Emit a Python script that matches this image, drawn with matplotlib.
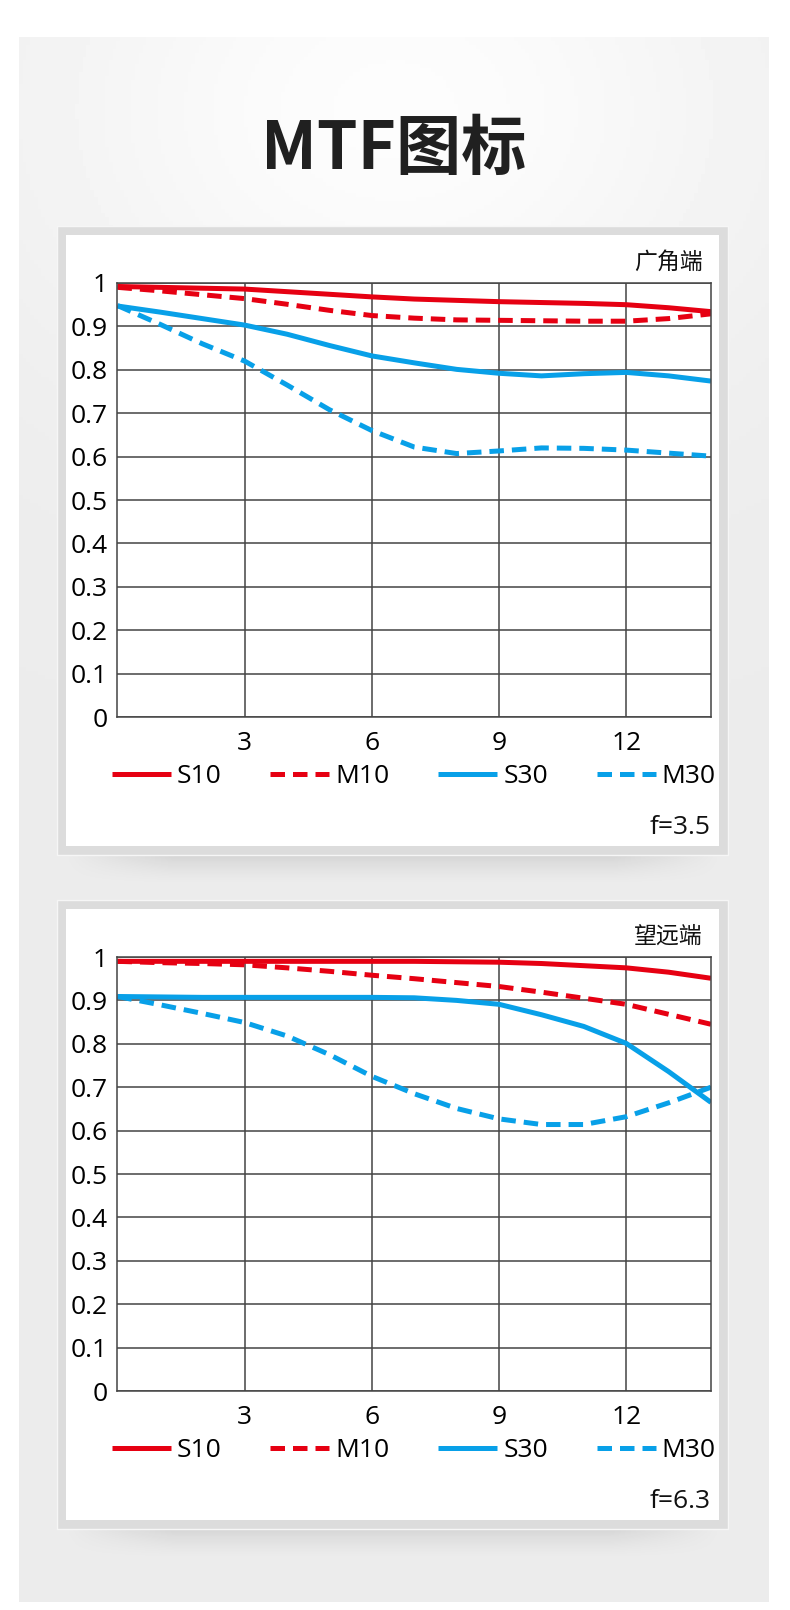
import numpy as np
import matplotlib
matplotlib.use('Agg')
import matplotlib.pyplot as plt
from matplotlib.patches import Rectangle

# data (image height in mm, MTF value)
x_pos = [0, 1, 2, 3, 4, 5, 6, 7, 8, 9, 10, 11, 12, 13, 14]

wide_s10 = [0.992, 0.990, 0.988, 0.986, 0.980, 0.974, 0.968, 0.963, 0.960, 0.957, 0.955, 0.953, 0.950, 0.943, 0.934]
wide_m10 = [0.990, 0.982, 0.973, 0.964, 0.951, 0.937, 0.925, 0.919, 0.915, 0.914, 0.913, 0.912, 0.912, 0.918, 0.929]
wide_s30 = [0.947, 0.933, 0.918, 0.903, 0.882, 0.856, 0.832, 0.816, 0.801, 0.792, 0.786, 0.791, 0.794, 0.786, 0.774]
wide_m30 = [0.948, 0.905, 0.860, 0.820, 0.765, 0.708, 0.660, 0.622, 0.607, 0.613, 0.620, 0.619, 0.615, 0.608, 0.601]

tele_s10 = [0.990, 0.990, 0.990, 0.990, 0.990, 0.990, 0.990, 0.990, 0.989, 0.988, 0.985, 0.980, 0.975, 0.965, 0.951]
tele_m10 = [0.990, 0.987, 0.985, 0.982, 0.975, 0.967, 0.958, 0.950, 0.941, 0.932, 0.919, 0.905, 0.891, 0.868, 0.845]
tele_s30 = [0.909, 0.908, 0.907, 0.907, 0.907, 0.907, 0.907, 0.906, 0.900, 0.891, 0.867, 0.840, 0.801, 0.736, 0.665]
tele_m30 = [0.909, 0.890, 0.870, 0.849, 0.818, 0.775, 0.725, 0.685, 0.651, 0.627, 0.614, 0.614, 0.632, 0.664, 0.700]

series_names = ['S10', 'M10', 'S30', 'M30']
x_ticks = [3, 6, 9, 12]
y_ticks = [0, 0.1, 0.2, 0.3, 0.4, 0.5, 0.6, 0.7, 0.8, 0.9, 1.0]
y_tick_labels = ['0', '0.1', '0.2', '0.3', '0.4', '0.5', '0.6', '0.7', '0.8', '0.9', '1']

panel_titles = ['广角端', '望远端']
apertures = ['f=3.5', 'f=6.3']
panel_data = [[wide_s10, wide_m10, wide_s30, wide_m30],
              [tele_s10, tele_m10, tele_s30, tele_m30]]

RED = '#e60012'
BLUE = '#08a0e8'
GRID = '#444444'
series_style = [(RED, '-'), (RED, (0, (2.9, 1.6))), (BLUE, '-'), (BLUE, (0, (2.9, 1.6)))]

plt.rcParams['font.family'] = ['Open Sans', 'Noto Sans CJK SC', 'DejaVu Sans']
CJK = ['Noto Sans CJK SC', 'DejaVu Sans']
FS = 19

W, H = 790, 1610
fig = plt.figure(figsize=(W / 100, H / 100), dpi=100)

# background layer in pixel coordinates
bg = fig.add_axes([0, 0, 1, 1], zorder=0)
gx = np.linspace(19, 769, 200)
gy = np.linspace(38, 1602, 400)
GX, GY = np.meshgrid(gx, gy)
shade = 0.925 + 0.065 * np.exp(-(((GX - 395) / 380) ** 2 + ((GY - 110) / 300) ** 2))
bg.imshow(shade, cmap='gray', vmin=0, vmax=1, extent=(19, 769, 1602, 38), aspect='auto', zorder=0)

panel_tops = [226, 900]
axis_bottoms = [717, 1391]
for top in panel_tops:
    # soft shadow under the card
    sh = np.zeros((34, 200, 4))
    fade_y = np.linspace(1, 0, 34) ** 1.6
    fade_x = np.clip(np.minimum(np.linspace(0, 1, 200), np.linspace(1, 0, 200)) * 6, 0, 1)
    sh[..., 3] = 0.11 * fade_y[:, None] * fade_x[None, :]
    bg.imshow(sh, extent=(62, 724, top + 629 + 32, top + 627), aspect='auto', zorder=1)
    bg.add_patch(Rectangle((57, top), 671, 629, facecolor='#dcdcdc', edgecolor='#f6f6f6', lw=1, zorder=2))
    bg.add_patch(Rectangle((66, top + 9), 653, 611, facecolor='white', edgecolor='none', zorder=3))

bg.set_xlim(0, W)
bg.set_ylim(H, 0)
bg.axis('off')

bg.text(394, 169, 'MTF图标', family=CJK, fontsize=47, fontweight='bold',
        ha='center', va='baseline', color='#202020', zorder=5)

for i in range(2):
    ybot = axis_bottoms[i]
    ax = fig.add_axes([117.5 / W, 1 - ybot / H, 593.5 / W, 434 / H], zorder=1)
    ax.set_facecolor('white')
    for name, vals, (col, ls) in zip(series_names, panel_data[i], series_style):
        ax.plot(x_pos, vals, color=col, linestyle=ls, linewidth=3.6,
                solid_capstyle='butt', dash_capstyle='butt', label=name)
    ax.set_xlim(0, 14)
    ax.set_ylim(0, 1)
    ax.set_xticks(x_ticks)
    ax.set_yticks(y_ticks)
    ax.set_yticklabels(y_tick_labels)
    ax.grid(True, color=GRID, linewidth=1.1)
    ax.set_axisbelow(True)
    for sp in ax.spines.values():
        sp.set_color(GRID)
        sp.set_linewidth(1.1)
    ax.tick_params(axis='both', length=0, labelsize=FS, labelcolor='black')
    ax.tick_params(axis='x', pad=10)
    ax.tick_params(axis='y', pad=7)
    ax.legend(ncol=4, loc='center left', bbox_to_anchor=(-0.0093, -0.138),
              frameon=False, fontsize=FS, handlelength=2.23, handletextpad=0.23,
              columnspacing=1.85, borderpad=0, borderaxespad=0)

    top = panel_tops[i]
    bg.text(703, top + 36, panel_titles[i], family=CJK, fontsize=16.5,
            ha='right', va='center', color='#111111', zorder=5)
    bg.text(711, ybot + 110, apertures[i], fontsize=FS,
            ha='right', va='center', color='#111111', zorder=5)

fig.savefig('out.png', dpi=100, facecolor='white')
